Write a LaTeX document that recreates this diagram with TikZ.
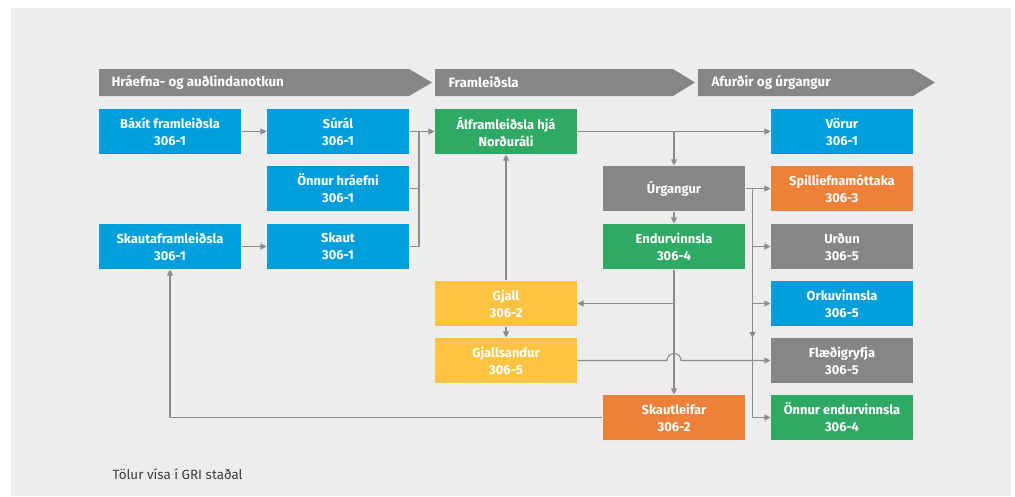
\documentclass[tikz,border=0pt]{standalone}
\usepackage{fontspec}
\setmainfont{Fira Sans}
\usetikzlibrary{arrows.meta}
\definecolor{bgc}{RGB}{237,237,237}
\definecolor{bluec}{RGB}{0,158,219}
\definecolor{greenc}{RGB}{47,170,101}
\definecolor{greyc}{RGB}{135,133,133}
\definecolor{orangec}{RGB}{238,128,58}
\definecolor{yellowc}{RGB}{252,196,66}
\definecolor{linec}{RGB}{140,140,140}
\definecolor{notec}{RGB}{60,60,60}
\tikzset{
  box/.style={rectangle,minimum width=142pt,minimum height=45pt,inner sep=0pt,
    text=white,align=center,font=\fontsize{12.9}{17}\selectfont\bfseries},
  head/.style={fill=greyc},
  headtext/.style={anchor=west,text=white,font=\fontsize{13.4}{15}\selectfont\bfseries,inner sep=0pt},
  arr/.style={-{Triangle[length=6pt,width=6pt]}},
}
\begin{document}
\begin{tikzpicture}[x=1pt,y=-1pt,line join=round,draw=linec,line width=1.1pt]
\useasboundingbox (0,0) rectangle (1015,496);
\fill[bgc] (11,8) rectangle (1011,496);
\fill[head] (99,69) -- (409,69) -- (432,82.5) -- (409,96) -- (99,96) -- cycle;
\fill[head] (435,69) -- (673,69) -- (695,82.5) -- (673,96) -- (435,96) -- cycle;
\fill[head] (698,69) -- (913,69) -- (935,82.5) -- (913,96) -- (698,96) -- cycle;
\node[headtext] (h1) at (111,82.5) {Hráefna- og auðlindanotkun};
\node[headtext] (h2) at (448,82.5) {Framleiðsla};
\node[headtext] (h3) at (711,82.5) {Afurðir og úrgangur};
\node[box,fill=bluec] (baxit) at (170,131.5) {Báxít framleiðsla\\306-1};
\node[box,fill=bluec] (skautaf) at (170,246.5) {Skautaframleiðsla\\306-1};
\node[box,fill=bluec] (sural) at (338,131.5) {Súrál\\306-1};
\node[box,fill=bluec] (onnur) at (338,188.5) {Önnur hráefni\\306-1};
\node[box,fill=bluec] (skaut) at (338,246.5) {Skaut\\306-1};
\node[box,fill=greenc] (alfram) at (506,131.5) {Álframleiðsla hjá\\Norðuráli};
\node[box,fill=yellowc] (gjall) at (506,303.5) {Gjall\\306-2};
\node[box,fill=yellowc] (gsand) at (506,360.5) {Gjallsandur\\306-5};
\node[box,fill=greyc] (urg) at (674,188.5) {Úrgangur};
\node[box,fill=greenc] (endur) at (674,246.5) {Endurvinnsla\\306-4};
\node[box,fill=orangec] (skautl) at (674,417.5) {Skautleifar\\306-2};
\node[box,fill=bluec] (vorur) at (842,131.5) {Vörur\\306-1};
\node[box,fill=orangec] (spill) at (842,188.5) {Spilliefnamóttaka\\306-3};
\node[box,fill=greyc] (urdun) at (842,246.5) {Urðun\\306-5};
\node[box,fill=bluec] (orku) at (842,303.5) {Orkuvinnsla\\306-5};
\node[box,fill=greyc] (flaedi) at (842,360.5) {Flæðigryfja\\306-5};
\node[box,fill=greenc] (onnurend) at (842,417.5) {Önnur endurvinnsla\\306-4};
\coordinate (join) at (419,131.5);
\coordinate (vtop) at (752.5,188.5);
\draw[arr,linec] (baxit) -- (sural);
\draw[arr,linec] (skautaf) -- (skaut);
\draw[linec] (onnur.east) -| (join);
\draw[linec] (skaut.east) -| (join);
\draw[arr,linec] (sural) -- (alfram);
\draw[arr,linec] (alfram) -- (vorur);
\draw[arr,linec] (urg.north |- alfram.east) -- (urg.north);
\draw[arr,linec] (urg) -- (endur);
\draw[arr,linec] (urg) -- (spill);
\draw[arr,linec] (vtop) |- (onnurend.west);
\draw[arr,linec] (vtop) -- ([yshift=-0.5pt]vtop |- flaedi.north);
\draw[arr,linec] (vtop |- urdun.west) -- (urdun.west);
\draw[arr,linec] (vtop |- orku.west) -- (orku.west);
\draw[arr,linec] (endur) -- (skautl);
\draw[arr,linec] (endur.south |- gjall.east) -- (gjall.east);
\draw[arr,linec] (gjall) -- (gsand);
\draw[arr,linec] (gjall) -- (alfram);
\draw[arr,linec] (gsand.east) -- ([xshift=-7pt]endur.south |- gsand.east) arc[start angle=180,end angle=0,radius=7pt] -- (flaedi.west);
\draw[arr,linec] (skautl.west) -| (skautaf.south);
\node[anchor=west,inner sep=0pt,text=notec,font=\fontsize{13.4}{15}\selectfont] (note) at (112,474) {Tölur vísa í GRI staðal};
\end{tikzpicture}
\end{document}
